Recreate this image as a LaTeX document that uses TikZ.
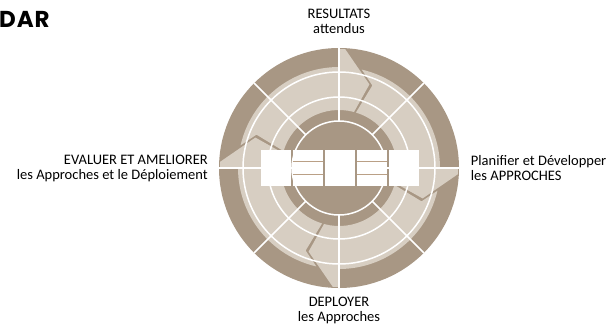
\documentclass[tikz,border=0pt]{standalone}
\usepackage{fontspec}
\setmainfont{Carlito}
\newfontfamily\titlefont[LetterSpace=4]{Poppins}
\usepackage{tikz}
\usetikzlibrary{positioning}
\definecolor{darkband}{RGB}{168,151,132}
\definecolor{lightband}{RGB}{215,206,194}
\definecolor{tanline}{RGB}{186,160,134}

\tikzset{
    ringline/.style={white,line width=1.5pt},
    cellbox/.style={fill=white,minimum width=29.9pt,minimum height=35.7pt,inner sep=0pt},
    radartext/.style={inner sep=0pt,font=\fontsize{14.5}{15}\selectfont}
}

\begin{document}
\begin{tikzpicture}[x=1pt,y=1pt]
    \useasboundingbox (0,0) rectangle (613,325);

    \node[anchor=south west,inner sep=0pt,font=\titlefont\bfseries\fontsize{23}{23}\selectfont] (title) at (-1,297) {DAR};

    \begin{scope}[shift={(339,157)}]
        \fill[darkband] (0,0) circle (120);
        \foreach \A in {90,0,-90,-180} {
            \pgfmathsetmacro{\tailA}{\A+77}
            \pgfmathsetmacro{\headA}{\A-3}
            \pgfmathsetmacro{\tipA}{\A-20}
            \pgfmathsetmacro{\innA}{\A-15}
            \pgfmathsetmacro{\backA}{\A+73}
            \pgfmathsetmacro{\notchA}{\A+68}
            \fill[lightband] (\tailA:101) arc[start angle=\tailA,end angle=\A,radius=101]
                -- (\A:119) arc[start angle=\A,end angle=\headA,radius=119]
                -- (\tipA:89) -- (\innA:58)
                arc[start angle=\innA,end angle=\backA,radius=58]
                -- (\notchA:89) -- cycle;
        }
        \foreach \r in {47,71,96}
            \draw[ringline] (0,0) circle (\r);
        \foreach \a in {0,45,...,315}
            \draw[ringline] (\a:47) -- (\a:120);
    \end{scope}

    \node[cellbox,anchor=west] (cell1) at (260.7,157) {};
    \node[cellbox,right=1.8pt of cell1] (cell2) {};
    \node[cellbox,right=1.8pt of cell2] (cell3) {};
    \node[cellbox,right=1.8pt of cell3] (cell4) {};
    \node[cellbox,right=1.8pt of cell4] (cell5) {};
    \foreach \c in {cell2,cell4} {
        \draw[tanline,line width=0.9pt] ([yshift=-11.9pt]\c.north west) -- ([yshift=-11.9pt]\c.north east);
        \draw[tanline,line width=0.9pt] ([yshift=11.9pt]\c.south west) -- ([yshift=11.9pt]\c.south east);
    }

    \node[radartext,anchor=north,align=center] (results) at (339,316) {RESULTATS\\attendus};
    \node[radartext,anchor=north west,align=left] (plan) at (470.7,170) {Planifier et Développer\\les APPROCHES};
    \node[radartext,anchor=north,align=center] (deploy) at (339,28) {DEPLOYER\\les Approches};
    \node[radartext,anchor=north east,align=right] (assess) at (208,170) {EVALUER ET AMELIORER\\les Approches et le Déploiement};
\end{tikzpicture}
\end{document}
